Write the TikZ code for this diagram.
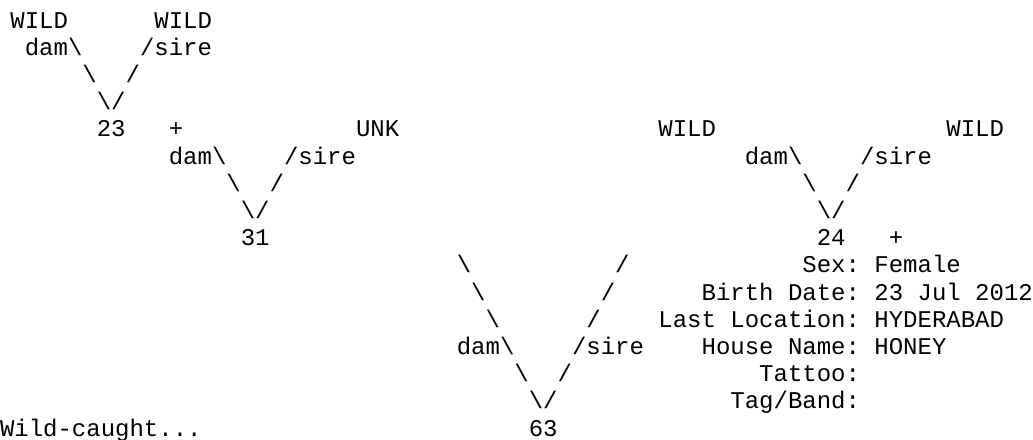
\documentclass[tikz,border=0pt]{standalone}
\usepackage{fontspec}
\setmonofont{Liberation Mono}
\frenchspacing
\newcommand{\bsl}{\textbackslash}
\tikzset{
  txt/.style={font=\ttfamily\fontsize{24pt}{27.2pt}\selectfont,
              anchor=base west, inner sep=0pt, outer sep=0pt, text=black},
  who/.style={txt},
  lnk/.style={txt},
  info/.style={txt},
}

\begin{document}
\begin{tikzpicture}[x=14.4pt, y=-27.2pt]
  \useasboundingbox (0pt,0pt) rectangle (1033pt,-439pt);
  \begin{scope}[shift={(-4pt,-0.8pt)}]
  % parents of 23
  \node[who] (wildA) at (1,1)  {WILD};
  \node[who] (wildB) at (11,1) {WILD};
  \node[lnk] (damA)  at (2,2)  {dam\bsl};
  \node[lnk] (sireA) at (10,2) {/sire};
  \node[lnk] (lA1)   at (6,3)  {\bsl};
  \node[lnk] (rA1)   at (9,3)  {/};
  \node[lnk] (vA)    at (7,4)  {\bsl/};
  \node[who] (id23)  at (7,5)  {23};
  \node[who] (plusA) at (12,5) {+};

  % parents of 31 and 24
  \node[who] (unk)   at (25,5) {UNK};
  \node[who] (wildC) at (46,5) {WILD};
  \node[who] (wildD) at (66,5) {WILD};
  \node[lnk] (damB)  at (12,6) {dam\bsl};
  \node[lnk] (sireB) at (20,6) {/sire};
  \node[lnk] (damC)  at (52,6) {dam\bsl};
  \node[lnk] (sireC) at (60,6) {/sire};
  \node[lnk] (lB1)   at (16,7) {\bsl};
  \node[lnk] (rB1)   at (19,7) {/};
  \node[lnk] (lC1)   at (56,7) {\bsl};
  \node[lnk] (rC1)   at (59,7) {/};
  \node[lnk] (vB)    at (17,8) {\bsl/};
  \node[lnk] (vC)    at (57,8) {\bsl/};
  \node[who] (id31)  at (17,9) {31};
  \node[who] (id24)  at (57,9) {24};
  \node[who] (plusC) at (62,9) {+};

  % parents of 63
  \node[lnk] (lD1)   at (32,10) {\bsl};
  \node[lnk] (rD1)   at (43,10) {/};
  \node[lnk] (lD2)   at (33,11) {\bsl};
  \node[lnk] (rD2)   at (42,11) {/};
  \node[lnk] (lD3)   at (34,12) {\bsl};
  \node[lnk] (rD3)   at (41,12) {/};
  \node[lnk] (damD)  at (32,13) {dam\bsl};
  \node[lnk] (sireD) at (40,13) {/sire};
  \node[lnk] (lD4)   at (36,14) {\bsl};
  \node[lnk] (rD4)   at (39,14) {/};
  \node[lnk] (vD)    at (37,15) {\bsl/};
  \node[who] (id63)  at (37,16) {63};
  \node[who, xshift=4pt] (note) at (0,16) {Wild-caught...};

  % details
  \node[info] (sexK)   at (56,10) {Sex:};
  \node[info] (sexV)   at (61,10) {Female};
  \node[info] (birthK) at (49,11) {Birth Date:};
  \node[info] (birthV) at (61,11) {23 Jul 2012};
  \node[info] (locK)   at (46,12) {Last Location:};
  \node[info] (locV)   at (61,12) {HYDERABAD};
  \node[info] (houseK) at (49,13) {House Name:};
  \node[info] (houseV) at (61,13) {HONEY};
  \node[info] (tatK)   at (53,14) {Tattoo:};
  \node[info] (tagK)   at (51,15) {Tag/Band:};
  \end{scope}
\end{tikzpicture}
\end{document}
